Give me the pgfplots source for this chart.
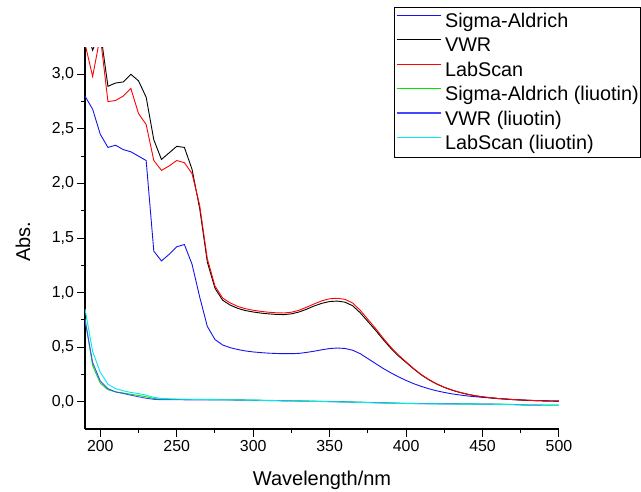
\documentclass[border=0pt]{standalone}
\usepackage{fontspec}
\setmainfont{Liberation Sans}
\usepackage{pgfplots}
\pgfplotsset{compat=1.18}
\definecolor{sblue}{RGB}{20,20,235}
\definecolor{lblue}{RGB}{70,70,255}
\definecolor{lgreen}{RGB}{0,230,0}
\definecolor{lcyan}{RGB}{0,235,235}
\begin{document}
\begin{tikzpicture}
\useasboundingbox (0,0) rectangle (641pt,491pt);
\begin{axis}[
  at={(85pt,62pt)}, anchor=south west,
  scale only axis, width=474pt, height=382pt,
  xmin=190, xmax=500, ymin=-0.25, ymax=3.25,
  axis x line*=bottom, axis y line*=left,
  axis line style={line width=1.1pt},
  xtick={200,250,...,500}, ytick={0,0.5,...,3},
  minor x tick num=1, minor y tick num=1,
  tick align=outside,
  major tick length=7.5pt, minor tick length=4pt,
  tick style={line width=1.0pt, black},
  /pgf/number format/assume math mode=true,
  yticklabel style={/pgf/number format/.cd, use comma, fixed, fixed zerofill, precision=1},
  xticklabel style={/pgf/number format/.cd, fixed, precision=0},
  tick label style={font=\fontsize{15.9}{18}\selectfont},
  label style={font=\fontsize{20}{23}\selectfont},
  xlabel={Wavelength/nm},
  ylabel={Abs.},
  xlabel style={at={(axis description cs:0.5,-0.149)}, anchor=base},
  ylabel style={at={(axis description cs:-0.116,0.49)}, anchor=base, rotate=0},
  legend style={at={(0.651,1.1047)}, anchor=north west, draw=black, line width=0.8pt, fill=white,
    font=\fontsize{19.8}{22}\selectfont, inner xsep=2pt, inner ysep=6pt, row sep=8.4pt,
    column sep=4pt,
    nodes={inner sep=0pt, text height=14pt, text depth=2pt}},
  legend cell align=left,
  legend image code/.code={\draw[#1, line width=1.1pt] (0pt,6pt) -- (44pt,6pt);},
  every axis plot/.append style={line width=0.9pt},
]
% Sigma-Aldrich
\addplot[sblue] coordinates {
(190,2.80)(195,2.68)(200,2.45)(205,2.33)(210,2.35)(215,2.31)(220,2.29)(225,2.25)(230,2.21)
(235,1.38)(240,1.29)(245,1.35)(250,1.42)(255,1.44)(260,1.26)(265,0.96)(270,0.69)(275,0.57)
(280,0.52)(285,0.495)(290,0.478)(295,0.465)(300,0.456)(305,0.450)(310,0.445)(315,0.442)
(320,0.440)(325,0.440)(330,0.443)(335,0.452)(340,0.463)(345,0.476)(350,0.487)(355,0.492)
(360,0.488)(365,0.472)(370,0.440)(375,0.395)(380,0.350)(385,0.305)(390,0.265)(395,0.228)
(400,0.195)(405,0.165)(410,0.140)(415,0.118)(420,0.100)(425,0.085)(430,0.072)(435,0.062)
(440,0.053)(445,0.046)(450,0.040)(460,0.029)(470,0.020)(480,0.013)(490,0.008)(500,0.005)};
\addlegendentry{Sigma-Aldrich}
% VWR
\addplot[black] coordinates {
(190,3.45)(195,3.22)(200,3.40)(205,2.89)(210,2.92)(215,2.93)(220,3.00)(225,2.94)(230,2.79)
(235,2.40)(240,2.22)(245,2.28)(250,2.34)(255,2.33)(260,2.13)(265,1.77)(270,1.28)(275,1.04)
(280,0.93)(285,0.885)(290,0.855)(295,0.835)(300,0.822)(305,0.812)(310,0.805)(315,0.800)
(320,0.798)(325,0.805)(330,0.822)(335,0.848)(340,0.878)(345,0.902)(350,0.918)(355,0.922)
(360,0.912)(365,0.880)(370,0.815)(375,0.735)(380,0.655)(385,0.570)(390,0.490)(395,0.420)
(400,0.360)(405,0.300)(410,0.245)(415,0.200)(420,0.162)(425,0.131)(430,0.106)(435,0.085)
(440,0.068)(445,0.055)(450,0.044)(460,0.029)(470,0.019)(480,0.012)(490,0.008)(500,0.005)};
\addlegendentry{VWR}
% LabScan
\addplot[red] coordinates {
(190,3.28)(195,2.98)(200,3.35)(205,2.75)(210,2.76)(215,2.80)(220,2.87)(225,2.64)(230,2.54)
(235,2.21)(240,2.12)(245,2.16)(250,2.21)(255,2.19)(260,2.09)(265,1.80)(270,1.31)(275,1.06)
(280,0.95)(285,0.905)(290,0.873)(295,0.852)(300,0.838)(305,0.828)(310,0.820)(315,0.815)
(320,0.813)(325,0.820)(330,0.838)(335,0.866)(340,0.897)(345,0.925)(350,0.943)(355,0.948)
(360,0.938)(365,0.905)(370,0.838)(375,0.755)(380,0.672)(385,0.583)(390,0.500)(395,0.428)
(400,0.365)(405,0.304)(410,0.248)(415,0.203)(420,0.164)(425,0.133)(430,0.108)(435,0.087)
(440,0.070)(445,0.056)(450,0.045)(460,0.030)(470,0.020)(480,0.013)(490,0.008)(500,0.005)};
\addlegendentry{LabScan}
% Sigma-Aldrich (liuotin)
\addplot[lgreen] coordinates {
(190,0.76)(195,0.33)(200,0.17)(205,0.11)(210,0.09)(215,0.08)(220,0.068)(225,0.058)(230,0.045)
(235,0.030)(240,0.022)(250,0.020)(260,0.020)(270,0.020)(280,0.018)(290,0.017)(300,0.015)
(320,0.010)(340,0.005)(360,0.0)(380,-0.008)(400,-0.015)(420,-0.018)(440,-0.020)(460,-0.022)
(470,-0.025)(480,-0.030)(500,-0.032)};
\addlegendentry{Sigma-Aldrich (liuotin)}
% VWR (liuotin)
\addplot[lblue] coordinates {
(190,0.75)(195,0.36)(200,0.19)(205,0.12)(210,0.09)(215,0.075)(220,0.06)(225,0.045)(230,0.032)
(235,0.022)(240,0.018)(250,0.018)(260,0.017)(270,0.017)(280,0.016)(290,0.015)(300,0.013)
(320,0.008)(340,0.004)(360,-0.002)(380,-0.009)(400,-0.016)(420,-0.019)(440,-0.021)(460,-0.023)
(470,-0.026)(480,-0.031)(500,-0.033)};
\addlegendentry{VWR (liuotin)}
% LabScan (liuotin)
\addplot[lcyan] coordinates {
(190,0.85)(195,0.46)(200,0.27)(205,0.16)(210,0.12)(215,0.10)(220,0.085)(225,0.075)(230,0.06)
(235,0.04)(240,0.03)(250,0.025)(260,0.022)(270,0.020)(280,0.018)(290,0.016)(300,0.014)
(320,0.008)(340,0.003)(360,-0.003)(380,-0.010)(400,-0.017)(420,-0.020)(440,-0.022)(460,-0.024)
(470,-0.027)(480,-0.032)(500,-0.034)};
\addlegendentry{LabScan (liuotin)}
\end{axis}
\end{tikzpicture}
\end{document}
